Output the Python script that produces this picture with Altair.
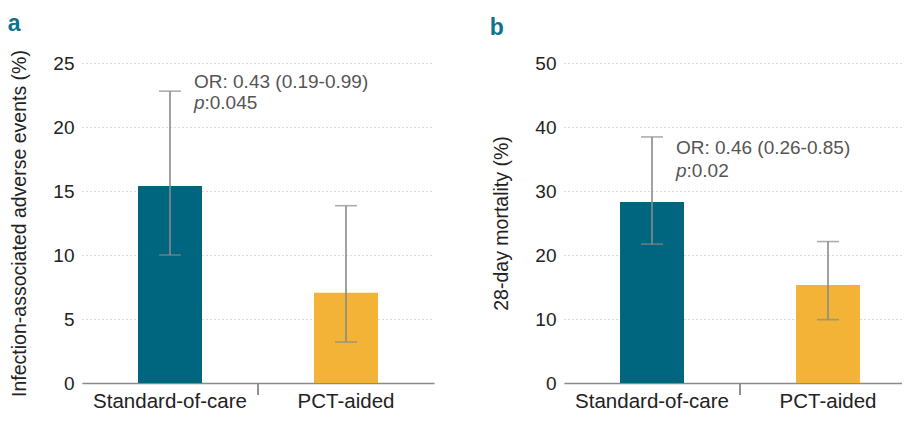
import altair as alt
import pandas as pd

# ---- data ----
groups = ["Standard-of-care", "PCT-aided"]
bar_colors = ["#00657F", "#F2B336"]

adverse_pct = [15.4, 7.05]
adverse_lo = [10.0, 3.2]
adverse_hi = [22.8, 13.85]

mortality_pct = [28.3, 15.3]
mortality_lo = [21.7, 9.9]
mortality_hi = [38.45, 22.1]

adverse_ticks = [0, 5, 10, 15, 20, 25]
mortality_ticks = [0, 10, 20, 30, 40, 50]

adverse_or = "OR: 0.43 (0.19-0.99)"
adverse_p = ":0.045"
mortality_or = "OR: 0.46 (0.26-0.85)"
mortality_p = ":0.02"

FONT = "Liberation Sans"
W = 352
H = 320
ERR = "#8a8a8a"


def panel(letter, values, lo, hi, ticks, ytitle, or_text, p_text, y1, y2):
    df = pd.DataFrame({"group": groups, "value": values, "lo": lo, "hi": hi})
    ann = pd.DataFrame({"group": [groups[0]], "or": [or_text], "p": ["p"],
                        "pv": [p_text], "y1": [y1], "y2": [y2]})
    xscale = alt.Scale(domain=groups, paddingInner=0, paddingOuter=0)
    yscale = alt.Scale(domain=[ticks[0], ticks[-1]], nice=False)
    x = alt.X("group:N", sort=groups, scale=xscale,
              axis=alt.Axis(title=None, labelAngle=0, ticks=False, grid=False,
                            domainColor="#8a8a8a", domainWidth=1.5,
                            labelFontSize=20.5, labelColor="#222222",
                            labelFont=FONT, labelPadding=8))
    y = alt.Y("value:Q", scale=yscale,
              axis=alt.Axis(title=ytitle, values=ticks, grid=True,
                            gridDash=[1, 3], gridColor="#b5b5b5",
                            gridWidth=1, domain=False, ticks=False,
                            labelPadding=8, labelFontSize=19,
                            labelColor="#222222", labelFont=FONT,
                            titleFont=FONT, titleFontSize=19.5,
                            titleFontWeight="normal", titleColor="#222222",
                            titlePadding=23))
    bars = alt.Chart(df).mark_bar(size=64).encode(
        x=x, y=y,
        color=alt.Color("group:N", scale=alt.Scale(domain=groups, range=bar_colors), legend=None),
    )
    xs = alt.X("group:N", sort=groups, scale=xscale)
    rules = alt.Chart(df).mark_rule(color=ERR, strokeWidth=1.6).encode(
        x=xs, y=alt.Y("lo:Q", scale=yscale), y2="hi:Q")
    cap_hi = alt.Chart(df).mark_tick(color=ERR, size=22, thickness=1.6).encode(
        x=xs, y=alt.Y("hi:Q", scale=yscale))
    cap_lo = alt.Chart(df).mark_tick(color=ERR, size=22, thickness=1.6).encode(
        x=xs, y=alt.Y("lo:Q", scale=yscale))
    mid = alt.Chart(df).mark_rule(color="#8a8a8a", strokeWidth=1.5).encode(
        x=alt.value(W / 2), y=alt.value(H), y2=alt.value(H + 12))
    t_or = alt.Chart(ann).mark_text(align="left", baseline="middle", dx=24,
                                    fontSize=19, font=FONT, color="#555555").encode(
        x=xs, y=alt.Y("y1:Q", scale=yscale), text="or:N")
    t_p = alt.Chart(ann).mark_text(align="left", baseline="middle", dx=24,
                                   fontSize=19, font=FONT, fontStyle="italic",
                                   color="#555555").encode(
        x=xs, y=alt.Y("y2:Q", scale=yscale), text="p:N")
    t_pv = alt.Chart(ann).mark_text(align="left", baseline="middle", dx=34.5,
                                    fontSize=19, font=FONT, color="#555555").encode(
        x=xs, y=alt.Y("y2:Q", scale=yscale), text="pv:N")
    return alt.layer(bars, rules, cap_hi, cap_lo, mid, t_or, t_p, t_pv).properties(
        width=W, height=H,
        title=alt.TitleParams(letter, anchor="start", fontSize=23, fontWeight="bold",
                              color="#10718C", font=FONT, offset=20, dx=-2, dy=6),
    )


pa = panel("a", adverse_pct, adverse_lo, adverse_hi, adverse_ticks,
           "Infection-associated adverse events (%)", adverse_or, adverse_p, 23.5, 21.9)
pb = panel("b", mortality_pct, mortality_lo, mortality_hi, mortality_ticks,
           "28-day mortality (%)", mortality_or, mortality_p, 36.7, 33.1)

chart = alt.hconcat(pa, pb, spacing=55).properties(
    padding={"left": -1, "top": 4, "right": -14, "bottom": -4}
).configure(font=FONT).configure_view(strokeWidth=0, stroke="transparent")

chart.save("out.html", embed_options={"renderer": "svg", "actions": False})
